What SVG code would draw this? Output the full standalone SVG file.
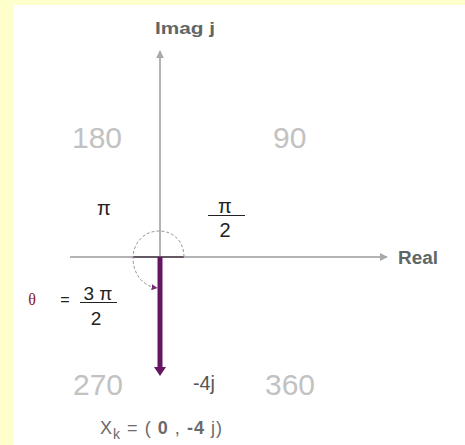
<svg xmlns="http://www.w3.org/2000/svg" width="465" height="445" viewBox="0 0 465 445">
<defs>
<style>
text{font-family:"Liberation Sans",Arial,sans-serif}
.q{font-size:30px;fill:#c2c2c2}
.lab{fill:#5f6666;font-weight:bold}
.m{font-size:20px;fill:#222}
.ax{stroke:#9a9a9a;stroke-width:1.5;fill:none}
</style>
<marker id="ga" viewBox="0 0 10 10" refX="9" refY="5" markerWidth="8" markerHeight="8" markerUnits="userSpaceOnUse" orient="auto"><path d="M0,0 L10,5 L0,10 Z" fill="#a8a8a8"/></marker>
<marker id="pa" viewBox="0 0 10 10" refX="9" refY="5" markerWidth="6" markerHeight="6" markerUnits="userSpaceOnUse" orient="auto"><path d="M0,0 L10,5 L0,10 Z" fill="#7a2a70"/></marker>
</defs>
<rect width="465" height="445" fill="#ffffcc"/>
<rect x="14" y="5" width="451" height="440" fill="#ffffff"/>
<g id="connectors">
<line class="ax" x1="160" y1="257" x2="160" y2="51" marker-end="url(#ga)"/>
<line class="ax" x1="70" y1="257" x2="387" y2="257" marker-end="url(#ga)"/>
<line x1="133" y1="257" x2="184" y2="257" stroke="#4a3a4a" stroke-width="1.5"/>
<path d="M184,257 C184,241 173,231 159,231 C144,231 133,243 133,258 C133,273 142,286 157,288" fill="none" stroke="#999" stroke-width="1" stroke-dasharray="3,2" marker-end="url(#pa)"/>
<line x1="160" y1="257" x2="160" y2="368" stroke="#661660" stroke-width="5"/>
<path d="M154,367 L166,367 L160,376 Z" fill="#661660"/>
</g>
<g id="imag"><text class="lab" x="155" y="34" font-size="17" textLength="60" lengthAdjust="spacingAndGlyphs">Imag j</text></g>
<g id="real"><text class="lab" x="398" y="264" font-size="18" textLength="40" lengthAdjust="spacingAndGlyphs">Real</text></g>
<g id="q180"><text class="q" x="72" y="148">180</text></g>
<g id="q90"><text class="q" x="273" y="148">90</text></g>
<g id="q270"><text class="q" x="73" y="395">270</text></g>
<g id="q360"><text class="q" x="265" y="395">360</text></g>
<g id="pi"><text class="m" x="104" y="215" text-anchor="middle">π</text></g>
<g id="pi2">
<text class="m" x="225" y="213" text-anchor="middle">π</text>
<line x1="208" y1="215.5" x2="245" y2="215.5" stroke="#222" stroke-width="1.2"/>
<text class="m" x="225" y="237" text-anchor="middle">2</text>
</g>
<g id="theta">
<text x="32" y="305" font-size="16" fill="#8b2020" text-anchor="middle" style="font-family:'Liberation Serif',serif">θ</text>
<text x="65" y="305" font-size="16" fill="#222" text-anchor="middle">=</text>
<text x="98" y="300" font-size="19" fill="#222" text-anchor="middle">3 π</text>
<line x1="80" y1="302.5" x2="117" y2="302.5" stroke="#222" stroke-width="1.2"/>
<text x="96" y="325" font-size="19" fill="#222" text-anchor="middle">2</text>
</g>
<g id="m4j"><text x="193" y="390" font-size="20" fill="#555" textLength="22" lengthAdjust="spacingAndGlyphs">-4j</text></g>
<g id="xk"><text x="100" y="434" font-size="18" fill="#6a6a6a" textLength="122">X<tspan font-size="14" dy="5">k</tspan><tspan dy="-5"> = ( </tspan><tspan font-weight="bold">0</tspan><tspan> , </tspan><tspan font-weight="bold">-4</tspan><tspan> j)</tspan></text></g>
</svg>
